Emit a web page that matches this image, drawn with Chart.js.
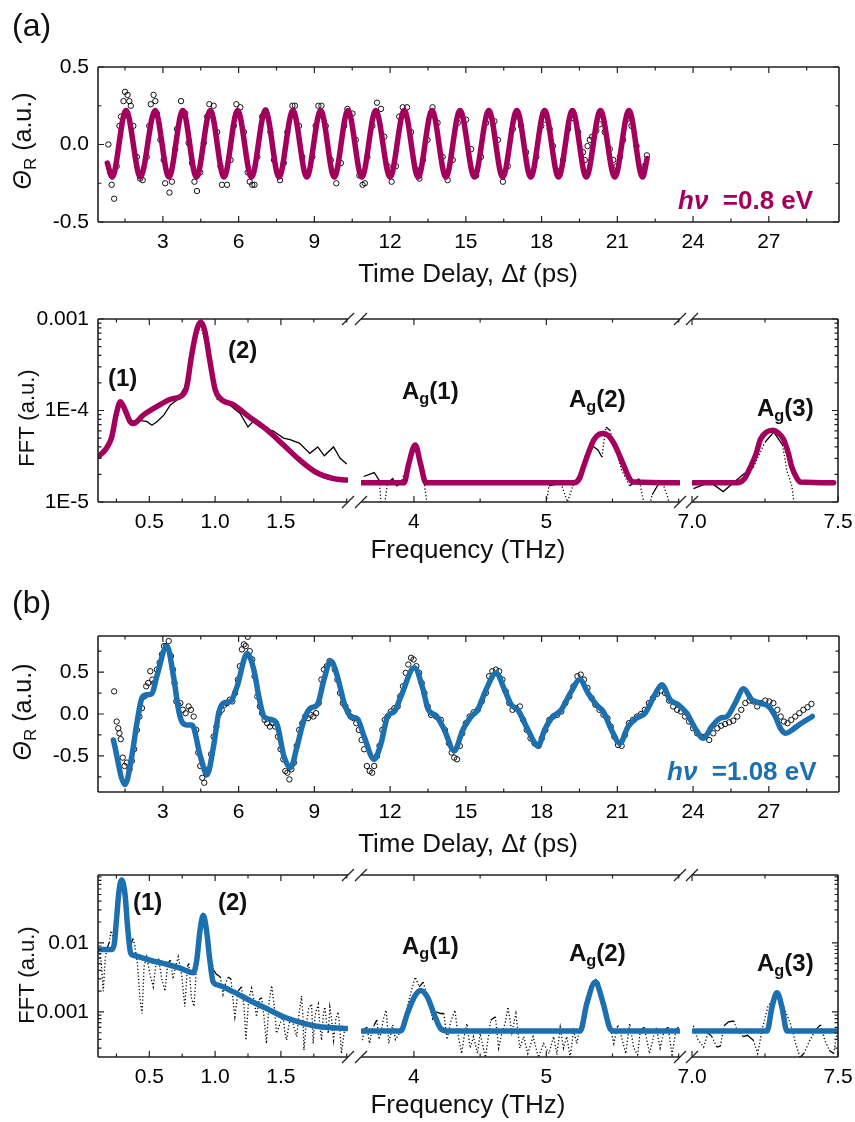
<!DOCTYPE html>
<html>
<head>
<meta charset="utf-8">
<script src="https://cdn.jsdelivr.net/npm/chart.js@4.4.0/dist/chart.umd.min.js"></script>
<style>
  body { margin: 0; background: #fff; }
  #fig { position: relative; width: 855px; height: 1122px; overflow: hidden; font-family: "Liberation Sans", Arial, sans-serif; color: #111; }
  #fig canvas { position: absolute; left: 0; }
  .t { position: absolute; white-space: nowrap; line-height: 1; z-index: 2; }
  .sub { position: relative; top: 0.32em; font-size: 0.68em; }
  .c { transform: translateX(-50%); }
  .v { transform: translate(-50%, -50%) rotate(-90deg); }
  .lab { font-weight: bold; }
</style>
</head>
<body>
<div id="fig">
  <div class="t" style="left:12px;top:9px;font-size:32px">(a)</div>
  <div class="t v" style="left:22px;top:141px;font-size:25px"><i>Θ</i><span class="sub">R</span> (a.u.)</div>
  <div class="t c" style="left:468px;top:260px;font-size:26px">Time Delay, Δ<i>t</i> (ps)</div>
  <div class="t lab" style="left:678px;top:187px;font-size:26px;color:#a3005d"><i>hν</i>&nbsp; =0.8 eV</div>

  <div class="t v" style="left:27px;top:418px;font-size:22px">FFT (a.u.)</div>
  <div class="t c" style="left:468px;top:536px;font-size:26px">Frequency (THz)</div>
  <div class="t lab" style="left:108px;top:366px;font-size:24px">(1)</div>
  <div class="t lab" style="left:228px;top:338px;font-size:24px">(2)</div>
  <div class="t lab" style="left:402px;top:379px;font-size:24px">A<span class="sub">g</span>(1)</div>
  <div class="t lab" style="left:569px;top:387px;font-size:24px">A<span class="sub">g</span>(2)</div>
  <div class="t lab" style="left:757px;top:396px;font-size:24px">A<span class="sub">g</span>(3)</div>

  <div class="t" style="left:12px;top:586px;font-size:32px">(b)</div>
  <div class="t v" style="left:22px;top:712px;font-size:25px"><i>Θ</i><span class="sub">R</span> (a.u.)</div>
  <div class="t c" style="left:468px;top:830px;font-size:26px">Time Delay, Δ<i>t</i> (ps)</div>
  <div class="t lab" style="left:667px;top:758px;font-size:26px;color:#1c70b0"><i>hν</i>&nbsp; =1.08 eV</div>

  <div class="t v" style="left:27px;top:975px;font-size:22px">FFT (a.u.)</div>
  <div class="t c" style="left:468px;top:1091px;font-size:26px">Frequency (THz)</div>
  <div class="t lab" style="left:133px;top:890px;font-size:24px">(1)</div>
  <div class="t lab" style="left:218px;top:890px;font-size:24px">(2)</div>
  <div class="t lab" style="left:402px;top:934px;font-size:24px">A<span class="sub">g</span>(1)</div>
  <div class="t lab" style="left:569px;top:941px;font-size:24px">A<span class="sub">g</span>(2)</div>
  <div class="t lab" style="left:757px;top:951px;font-size:24px">A<span class="sub">g</span>(3)</div>
</div>
<script>
var MAG = '#a3005d';
var BLUE = '#1c70b0';

// tick labels
var timeTicks = [[3,'3'],[6,'6'],[9,'9'],[12,'12'],[15,'15'],[18,'18'],[21,'21'],[24,'24'],[27,'27']];
var thetaTicks = [[-0.5,'-0.5'],[0,'0.0'],[0.5,'0.5']];
var freqTicks = [[0.5,'0.5'],[1.0,'1.0'],[1.5,'1.5'],[4,'4'],[5,'5'],[7.0,'7.0'],[7.5,'7.5']];
var fftTicksA = [[1e-5,'1E-5'],[1e-4,'1E-4'],[1e-3,'0.001']];
var fftTicksB = [[1e-3,'0.001'],[1e-2,'0.01']];

// broken frequency axis: THz ranges of the three pieces
var freqSegments = [[0.11, 2.01], [3.6, 6.01], [7.0, 7.5]];

// (a) 0.8 eV, time domain: measured points and fit
var circlesA = [[0.84,0.00],[0.91,-0.18],[0.97,-0.26],[1.07,-0.35],[1.17,-0.14],[1.28,0.12],[1.34,0.18],[1.44,0.28],[1.50,0.34],[1.60,0.32],[1.67,0.28],[1.73,0.25],[1.83,0.12],[1.97,-0.08],[2.10,-0.22],[2.20,-0.23],[2.36,-0.08],[2.46,0.12],[2.52,0.26],[2.63,0.32],[2.70,0.28],[2.76,0.20],[2.90,0.03],[3.03,-0.10],[3.09,-0.25],[3.26,-0.31],[3.36,-0.24],[3.49,-0.03],[3.56,0.10],[3.72,0.28],[3.89,0.20],[4.02,0.01],[4.15,-0.12],[4.25,-0.24],[4.35,-0.30],[4.48,-0.18],[4.62,0.01],[4.75,0.18],[4.84,0.26],[5.01,0.25],[5.15,0.08],[5.28,-0.14],[5.34,-0.26],[5.54,-0.26],[5.68,-0.10],[5.81,0.12],[5.91,0.26],[6.07,0.24],[6.21,0.08],[6.36,-0.18],[6.44,-0.24],[6.54,-0.26],[6.63,-0.26],[6.74,-0.08],[6.93,0.18],[7.07,0.22],[7.26,0.08],[7.40,-0.10],[7.64,-0.23],[7.79,-0.12],[7.93,0.08],[8.13,0.25],[8.23,0.25],[8.39,0.12],[8.52,-0.08],[8.72,-0.20],[8.92,-0.08],[9.05,0.12],[9.16,0.25],[9.28,0.25],[9.45,0.12],[9.65,-0.10],[9.87,-0.25],[10.05,-0.12],[10.18,0.12],[10.31,0.23],[10.51,0.20],[10.64,0.03],[10.78,-0.20],[10.91,-0.26],[11.00,-0.25],[11.10,-0.08],[11.30,0.12],[11.48,0.27],[11.64,0.23],[11.77,0.05],[11.90,-0.14],[12.06,-0.24],[12.23,-0.14],[12.36,0.18],[12.50,0.24],[12.67,0.24],[12.83,0.08],[13.03,-0.16],[13.16,-0.22],[13.30,-0.10],[13.48,0.03],[13.68,0.24],[13.88,0.14],[14.08,-0.08],[14.28,-0.23],[14.48,-0.10],[14.68,0.14],[14.81,0.20],[15.01,0.16],[15.21,-0.03],[15.41,-0.20],[15.60,-0.08],[15.80,0.14],[15.94,0.19],[16.13,0.15],[16.27,0.03],[16.47,-0.24],[16.66,-0.14],[16.86,0.10],[16.99,0.18],[17.19,0.12],[17.39,-0.05],[17.59,-0.20],[17.79,-0.08],[17.99,0.12],[18.12,0.16],[18.32,0.10],[18.45,-0.01],[18.65,-0.17],[18.85,-0.10],[19.05,0.10],[19.25,0.17],[19.45,0.08],[19.64,-0.05],[19.71,-0.10],[19.82,-0.01],[19.91,0.03],[20.00,0.05],[20.17,0.09],[20.30,0.13],[20.50,0.08],[20.70,-0.03],[20.84,-0.10],[20.97,-0.14],[21.10,-0.08],[21.23,0.03],[21.37,0.16],[21.56,0.12],[21.76,-0.01],[21.96,-0.16],[22.07,-0.14],[22.17,-0.07]];
var fitA = [[0.80,-0.12],[0.99,-0.21],[1.54,0.22],[2.11,-0.21],[2.69,0.22],[3.24,-0.21],[3.79,0.22],[4.33,-0.21],[4.88,0.22],[5.42,-0.21],[5.96,0.22],[6.51,-0.21],[7.06,0.22],[7.60,-0.21],[8.15,0.22],[8.70,-0.21],[9.25,0.22],[9.79,-0.21],[10.33,0.22],[10.88,-0.21],[11.43,0.22],[12.00,-0.21],[12.56,0.22],[13.11,-0.21],[13.66,0.22],[14.21,-0.21],[14.77,0.22],[15.34,-0.21],[15.91,0.22],[16.46,-0.21],[17.02,0.22],[17.57,-0.21],[18.12,0.22],[18.67,-0.21],[19.22,0.22],[19.77,-0.21],[20.33,0.22],[20.90,-0.21],[21.46,0.22],[22.00,-0.21],[22.18,-0.09]];

// (a) FFT: data and fit (null = gap between axis pieces)
var fftDataA = [[0.12,3.3e-5],[0.20,4.8e-5],[0.25,9.0e-5],[0.28,1.2e-4],[0.32,1.0e-4],[0.36,7.8e-5],[0.39,7.6e-5],[0.42,7.8e-5],[0.45,7.7e-5],[0.48,7.6e-5],[0.52,6.9e-5],[0.56,7.6e-5],[0.61,8.9e-5],[0.66,1.15e-4],[0.71,1.3e-4],[0.76,1.7e-4],[0.80,2.7e-4],[0.84,5.0e-4],[0.89,8.6e-4],[0.94,4.5e-4],[0.98,2.2e-4],[1.01,1.35e-4],[1.06,1.25e-4],[1.11,1.15e-4],[1.19,9.3e-5],[1.25,6.6e-5],[1.29,7.6e-5],[1.34,6.6e-5],[1.39,6.2e-5],[1.44,6.0e-5],[1.52,5.0e-5],[1.57,4.8e-5],[1.64,4.4e-5],[1.72,3.4e-5],[1.78,4.0e-5],[1.83,3.2e-5],[1.90,4.0e-5],[1.95,3.0e-5],[2.00,2.6e-5],
  [2.5,null],
  [3.62,1.9e-5],[3.70,2.1e-5],[3.74,1.7e-5],[3.76,6e-6],[3.80,1.6e-5],[3.84,1.8e-5],[3.87,1.5e-5],[3.90,1.6e-5],[3.95,2.5e-5],[4.00,4.0e-5],[4.04,3.0e-5],[4.08,1.5e-5],[4.12,6e-6],
  [4.5,null],
  [4.98,6e-6],[5.02,1.5e-5],[5.06,1.55e-5],[5.11,1.6e-5],[5.16,1.0e-5],[5.20,1.5e-5],[5.24,1.9e-5],[5.29,3.1e-5],[5.34,4.2e-5],[5.39,3.7e-5],[5.42,3.1e-5],[5.45,6.6e-5],[5.48,6.1e-5],[5.52,4.0e-5],[5.57,2.2e-5],[5.63,1.5e-5],[5.70,1.8e-5],[5.73,1.1e-5],[5.76,7e-6],[5.80,1.2e-5],[5.85,1.6e-5],[5.88,1.6e-5],[5.92,1.1e-5],[5.94,7e-6],
  [6.5,null],
  [7.005,1.4e-5],[7.062,1.65e-5],[7.107,1.3e-5],[7.14,1.6e-5],[7.175,2.0e-5],[7.21,2.4e-5],[7.25,4.5e-5],[7.28,5.8e-5],[7.31,4.2e-5],[7.325,2.2e-5],[7.342,1.5e-5],[7.353,8e-6]];
var fftFitA = [[0.12,3.2e-5],[0.176,3.9e-5],[0.214,5.1e-5],[0.25,9.3e-5],[0.28,1.25e-4],[0.315,1.02e-4],[0.353,7.6e-5],[0.378,7.2e-5],[0.454,8.9e-5],[0.556,1.1e-4],[0.657,1.32e-4],[0.746,1.45e-4],[0.784,1.8e-4],[0.82,3.9e-4],[0.86,7.6e-4],[0.89,9.3e-4],[0.92,7.6e-4],[0.96,3.5e-4],[1.00,1.7e-4],[1.04,1.35e-4],[1.14,1.15e-4],[1.26,8.5e-5],[1.39,6.2e-5],[1.52,4.2e-5],[1.64,2.9e-5],[1.77,2.1e-5],[1.90,1.8e-5],[2.00,1.74e-5],
  [2.5,null],
  [3.61,1.62e-5],[3.925,1.62e-5],[3.96,2.6e-5],[4.01,4.2e-5],[4.05,2.6e-5],[4.09,1.62e-5],[5.21,1.62e-5],[5.25,1.8e-5],[5.28,2.4e-5],[5.32,3.5e-5],[5.36,4.8e-5],[5.40,5.5e-5],[5.43,5.6e-5],[5.47,5.3e-5],[5.51,4.4e-5],[5.55,3.3e-5],[5.59,2.4e-5],[5.63,1.8e-5],[5.66,1.65e-5],[6.00,1.62e-5],
  [6.5,null],
  [7.005,1.62e-5],[7.154,1.62e-5],[7.18,1.8e-5],[7.20,2.4e-5],[7.22,3.4e-5],[7.234,4.8e-5],[7.255,5.8e-5],[7.277,6.1e-5],[7.295,5.7e-5],[7.314,4.8e-5],[7.33,3.4e-5],[7.342,2.4e-5],[7.36,1.8e-5],[7.371,1.65e-5],[7.485,1.62e-5]];

// (b) 1.08 eV, time domain
var circlesB = [[1.07,0.27],[1.17,-0.09],[1.23,-0.17],[1.28,-0.23],[1.33,-0.30],[1.41,-0.52],[1.48,-0.62],[1.57,-0.58],[1.68,-0.66],[1.77,-0.56],[1.86,-0.42],[1.97,-0.19],[2.07,-0.03],[2.17,0.07],[2.26,0.21],[2.34,0.33],[2.42,0.37],[2.50,0.51],[2.58,0.41],[2.66,0.37],[2.76,0.53],[2.87,0.61],[2.96,0.71],[3.05,0.81],[3.13,0.81],[3.23,0.87],[3.32,0.69],[3.40,0.53],[3.46,0.37],[3.53,0.15],[3.61,0.11],[3.69,0.13],[3.79,0.05],[3.90,0.01],[4.02,0.09],[4.11,0.05],[4.22,-0.03],[4.32,-0.19],[4.40,-0.46],[4.48,-0.62],[4.56,-0.76],[4.64,-0.82],[4.72,-0.72],[4.81,-0.66],[4.91,-0.48],[5.01,-0.27],[5.12,-0.15],[5.23,0.01],[5.33,0.05],[5.44,0.11],[5.54,0.13],[5.65,0.17],[5.75,0.15],[5.86,0.25],[5.97,0.41],[6.05,0.57],[6.13,0.77],[6.21,0.83],[6.28,0.81],[6.36,0.92],[6.44,0.75],[6.54,0.65],[6.63,0.45],[6.74,0.21],[6.84,0.09],[6.93,0.01],[7.03,-0.07],[7.13,-0.11],[7.24,-0.15],[7.34,-0.11],[7.45,-0.15],[7.56,-0.27],[7.66,-0.42],[7.77,-0.54],[7.85,-0.68],[7.93,-0.70],[8.01,-0.78],[8.09,-0.66],[8.19,-0.58],[8.30,-0.38],[8.40,-0.19],[8.52,-0.11],[8.64,-0.03],[8.75,-0.05],[8.85,-0.01],[8.96,-0.03],[9.07,0.01],[9.17,0.13],[9.28,0.41],[9.38,0.53],[9.49,0.57],[9.60,0.63],[9.70,0.61],[9.81,0.53],[9.91,0.41],[10.02,0.25],[10.13,0.13],[10.23,0.09],[10.34,0.03],[10.44,-0.03],[10.55,-0.05],[10.66,-0.11],[10.76,-0.19],[10.87,-0.31],[10.97,-0.42],[11.08,-0.62],[11.19,-0.68],[11.29,-0.70],[11.37,-0.62],[11.48,-0.50],[11.58,-0.38],[11.69,-0.19],[11.79,-0.07],[11.90,-0.03],[12.03,0.03],[12.17,0.07],[12.30,0.09],[12.40,0.21],[12.51,0.33],[12.62,0.49],[12.72,0.59],[12.83,0.67],[12.93,0.65],[13.04,0.57],[13.15,0.49],[13.25,0.37],[13.36,0.25],[13.49,0.09],[13.62,-0.01],[13.82,-0.03],[14.01,-0.07],[14.17,-0.19],[14.33,-0.35],[14.44,-0.46],[14.54,-0.52],[14.65,-0.54],[14.76,-0.38],[14.86,-0.23],[15.00,-0.11],[15.15,-0.03],[15.31,0.02],[15.47,0.05],[15.63,0.15],[15.79,0.25],[15.92,0.45],[16.05,0.51],[16.19,0.53],[16.32,0.51],[16.45,0.41],[16.58,0.27],[16.72,0.13],[16.85,0.05],[16.98,0.07],[17.14,0.09],[17.27,-0.07],[17.41,-0.19],[17.56,-0.29],[17.72,-0.35],[17.88,-0.38],[18.01,-0.29],[18.15,-0.19],[18.31,-0.07],[18.46,-0.03],[18.62,-0.01],[18.78,0.03],[18.94,0.13],[19.10,0.21],[19.26,0.33],[19.42,0.45],[19.55,0.47],[19.68,0.41],[19.82,0.31],[19.98,0.19],[20.13,0.11],[20.29,0.05],[20.45,-0.01],[20.61,-0.05],[20.74,-0.15],[20.88,-0.27],[21.03,-0.37],[21.17,-0.38],[21.30,-0.25],[21.46,-0.11],[21.62,-0.07],[21.78,-0.03],[21.94,0.00],[22.09,0.05],[22.25,0.13],[22.41,0.19],[22.57,0.24],[22.73,0.28],[22.89,0.25],[23.05,0.16],[23.21,0.09],[23.37,0.05],[23.52,0.03],[23.68,-0.03],[23.84,-0.09],[24.00,-0.17],[24.16,-0.23],[24.32,-0.27],[24.48,-0.27],[24.64,-0.31],[24.80,-0.23],[24.96,-0.17],[25.11,-0.14],[25.27,-0.12],[25.43,-0.10],[25.59,-0.08],[25.75,-0.03],[25.91,0.05],[26.07,0.13],[26.23,0.16],[26.39,0.15],[26.54,0.09],[26.70,0.13],[26.86,0.16],[27.02,0.15],[27.18,0.13],[27.34,0.05],[27.47,-0.03],[27.60,-0.09],[27.74,-0.11],[27.89,-0.07],[28.05,-0.03],[28.21,0.01],[28.37,0.05],[28.53,0.08],[28.69,0.12]];
var fitB = [[1.04,-0.31],[1.50,-0.84],[1.77,-0.50],[1.97,-0.11],[2.17,0.19],[2.36,0.23],[2.56,0.24],[2.76,0.45],[3.16,0.81],[3.42,0.45],[3.62,0.05],[3.75,-0.09],[3.95,-0.13],[4.15,-0.13],[4.48,-0.50],[4.75,-0.72],[5.01,-0.38],[5.21,0.01],[5.41,0.13],[5.68,0.15],[5.94,0.33],[6.34,0.72],[6.60,0.53],[6.80,0.21],[7.00,-0.03],[7.33,-0.07],[7.53,-0.13],[7.79,-0.50],[8.06,-0.64],[8.32,-0.38],[8.59,-0.07],[8.85,0.07],[9.12,0.11],[9.38,0.41],[9.65,0.63],[9.91,0.45],[10.18,0.13],[10.44,-0.03],[10.71,-0.06],[10.97,-0.27],[11.37,-0.54],[11.64,-0.35],[11.90,-0.03],[12.17,0.03],[12.43,0.21],[12.96,0.55],[13.30,0.30],[13.50,0.06],[13.85,-0.03],[14.15,-0.19],[14.54,-0.44],[14.88,-0.19],[15.21,-0.03],[15.47,0.05],[15.80,0.29],[16.20,0.49],[16.53,0.29],[16.80,0.11],[17.06,0.05],[17.46,-0.19],[17.86,-0.38],[18.12,-0.19],[18.39,-0.05],[18.78,0.05],[19.18,0.27],[19.51,0.41],[19.84,0.25],[20.17,0.11],[20.44,0.03],[20.77,-0.19],[21.10,-0.35],[21.43,-0.15],[21.76,-0.05],[22.10,0.01],[22.49,0.23],[22.76,0.35],[23.09,0.17],[23.42,0.11],[23.75,0.01],[24.08,-0.17],[24.41,-0.29],[24.74,-0.15],[25.07,-0.05],[25.34,-0.03],[25.67,0.13],[26.00,0.30],[26.33,0.17],[26.66,0.13],[26.99,0.09],[27.26,-0.03],[27.46,-0.17],[27.68,-0.23],[27.92,-0.19],[28.19,-0.13],[28.72,-0.03]];

// (b) FFT
var fftDataB = [[0.12,7.8e-3],[0.135,5.0e-3],[0.15,2.0e-3],[0.165,6.0e-3],[0.18,8.5e-3],[0.195,1.0e-2],[0.21,1.5e-2],[0.225,1.2e-2],[0.24,1.6e-2],[0.255,3.0e-2],[0.27,5.5e-2],[0.29,6.5e-2],[0.31,4.0e-2],[0.33,1.8e-2],[0.35,1.1e-2],[0.365,1.0e-2],[0.375,1.15e-2],[0.39,9.0e-3],[0.41,5.0e-3],[0.43,1.5e-3],[0.445,9.5e-4],[0.46,4.5e-3],[0.48,6.3e-3],[0.505,3.5e-3],[0.53,2.3e-3],[0.55,5.0e-3],[0.57,6.0e-3],[0.595,3.0e-3],[0.62,2.0e-3],[0.64,5.0e-3],[0.66,5.6e-3],[0.68,3.0e-3],[0.70,4.6e-3],[0.72,6.3e-3],[0.745,3.5e-3],[0.77,1.2e-3],[0.79,4.5e-3],[0.80,5.0e-3],[0.82,1.6e-3],[0.84,1.2e-3],[0.86,5.0e-3],[0.88,1.5e-2],[0.91,2.4e-2],[0.94,1.5e-2],[0.97,6.0e-3],[0.99,4.0e-3],[1.01,3.5e-3],[1.04,3.2e-3],[1.06,1.8e-3],[1.08,2.6e-3],[1.10,3.2e-3],[1.12,3.0e-3],[1.15,8.5e-4],[1.175,2.0e-3],[1.20,2.3e-3],[1.22,1.2e-3],[1.234,3.9e-4],[1.255,1.5e-3],[1.277,2.2e-3],[1.295,1.5e-3],[1.315,8.5e-4],[1.335,1.5e-3],[1.353,1.6e-3],[1.37,9.0e-4],[1.39,3.5e-4],[1.41,1.4e-3],[1.43,2.4e-3],[1.45,1.2e-3],[1.467,4.9e-4],[1.49,6.5e-4],[1.518,8.5e-4],[1.53,5.0e-4],[1.543,3.9e-4],[1.56,6.5e-4],[1.58,8.5e-4],[1.60,6.0e-4],[1.62,4.4e-4],[1.64,1.0e-3],[1.657,1.7e-3],[1.667,9.0e-4],[1.675,2.8e-4],[1.69,6.0e-4],[1.71,1.1e-3],[1.733,1.3e-3],[1.745,3.5e-4],[1.76,9.0e-4],[1.784,1.3e-3],[1.797,6.0e-4],[1.81,3.9e-4],[1.822,9.0e-4],[1.834,1.18e-3],[1.847,7.0e-4],[1.86,4.9e-4],[1.872,1.18e-3],[1.885,8.0e-4],[1.90,3.9e-4],[1.918,8.0e-4],[1.935,1.0e-3],[1.948,6.0e-4],[1.96,2.5e-4],[1.98,5.0e-4],[2.00,6.0e-4],
  [2.5,null],
  [3.61,3.9e-4],[3.625,5.6e-4],[3.645,6.0e-4],[3.665,3.5e-4],[3.68,4.9e-4],[3.70,6.5e-4],[3.72,7.6e-4],[3.735,4.0e-4],[3.75,4.9e-4],[3.77,8.0e-4],[3.79,1.06e-3],[3.80,6.0e-4],[3.81,3.5e-4],[3.83,5.4e-4],[3.84,6.5e-4],[3.86,4.0e-4],[3.89,4.9e-4],[3.92,7.0e-4],[3.95,1.2e-3],[3.98,2.0e-3],[4.01,3.2e-3],[4.04,2.3e-3],[4.07,2.7e-3],[4.09,2.0e-3],[4.11,1.5e-3],[4.14,8.0e-4],[4.17,1.0e-3],[4.20,9.5e-4],[4.226,9.5e-4],[4.25,4.0e-4],[4.276,7.0e-4],[4.31,1.06e-3],[4.33,5.0e-4],[4.36,2.5e-4],[4.38,4.5e-4],[4.40,6.8e-4],[4.425,3.0e-4],[4.45,4.4e-4],[4.48,2.5e-4],[4.50,4.9e-4],[4.54,2.2e-4],[4.58,7.6e-4],[4.615,8.5e-4],[4.64,3.0e-4],[4.665,5.0e-4],[4.69,7.0e-4],[4.71,1.18e-3],[4.74,5.0e-4],[4.77,9.5e-4],[4.80,3.0e-4],[4.83,4.4e-4],[4.86,2.5e-4],[4.90,4.4e-4],[4.94,2.2e-4],[4.98,3.5e-4],[5.02,2.5e-4],[5.055,4.4e-4],[5.08,2.4e-4],[5.105,6.0e-4],[5.13,3.0e-4],[5.155,4.4e-4],[5.18,2.2e-4],[5.206,5.4e-4],[5.23,3.5e-4],[5.256,6.0e-4],[5.29,1.2e-3],[5.33,2.4e-3],[5.37,3.0e-3],[5.40,2.6e-3],[5.43,1.5e-3],[5.46,9.0e-4],[5.48,6.3e-4],[5.51,3.5e-4],[5.54,6.5e-4],[5.56,5.0e-4],[5.60,2.5e-4],[5.63,6.8e-4],[5.66,3.0e-4],[5.69,2.4e-4],[5.71,5.4e-4],[5.74,6.0e-4],[5.78,2.5e-4],[5.81,4.4e-4],[5.83,6.0e-4],[5.86,3.0e-4],[5.89,5.4e-4],[5.92,6.0e-4],[5.95,2.4e-4],[5.98,5.6e-4],[6.00,6.0e-4],
  [6.5,null],
  [7.005,6.3e-4],[7.02,4.0e-4],[7.04,3.1e-4],[7.055,5.0e-4],[7.068,4.4e-4],[7.085,3.1e-4],[7.097,3.2e-4],[7.11,6.3e-4],[7.125,7.2e-4],[7.143,7.4e-4],[7.155,5.4e-4],[7.175,4.4e-4],[7.19,4.6e-4],[7.21,3.9e-4],[7.225,2.5e-4],[7.24,5.5e-4],[7.26,1.2e-3],[7.29,1.9e-3],[7.31,1.3e-3],[7.337,6.8e-4],[7.355,3.5e-4],[7.37,2.2e-4],[7.383,2.5e-4],[7.405,4.0e-4],[7.425,5.6e-4],[7.44,6.5e-4],[7.455,3.9e-4],[7.47,2.8e-4],[7.485,2.5e-4],[7.497,5.0e-4]];
var fftFitB = [[0.12,8.0e-3],[0.214,8.0e-3],[0.235,1.0e-2],[0.25,2.1e-2],[0.27,5.7e-2],[0.29,8.1e-2],[0.315,5.1e-2],[0.335,1.7e-2],[0.358,7.1e-3],[0.38,6.6e-3],[0.505,5.6e-3],[0.632,4.9e-3],[0.733,4.3e-3],[0.834,3.7e-3],[0.86,5.5e-3],[0.885,1.5e-2],[0.91,2.5e-2],[0.935,1.5e-2],[0.96,5.6e-3],[0.986,2.7e-3],[1.024,2.45e-3],[1.14,1.95e-3],[1.26,1.48e-3],[1.39,1.12e-3],[1.52,8.5e-4],[1.64,7.1e-4],[1.77,6.2e-4],[1.90,5.9e-4],[2.00,5.75e-4],
  [2.5,null],
  [3.61,5.3e-4],[3.90,5.3e-4],[3.95,9.5e-4],[4.01,1.74e-3],[4.05,2.05e-3],[4.10,1.66e-3],[4.15,9.5e-4],[4.20,5.8e-4],[4.25,5.3e-4],[5.256,5.3e-4],[5.306,1.32e-3],[5.37,2.7e-3],[5.43,1.32e-3],[5.48,5.8e-4],[5.51,5.3e-4],[6.00,5.3e-4],
  [6.5,null],
  [7.005,5.3e-4],[7.257,5.3e-4],[7.274,1.18e-3],[7.291,1.9e-3],[7.308,1.18e-3],[7.325,5.3e-4],[7.497,5.3e-4]];

Chart.defaults.font.family = "'Liberation Sans', Arial, sans-serif";
Chart.defaults.font.size = 21;
Chart.defaults.color = '#000';

// frame with inward ticks on every side that is drawn, plus the // break marks
var framePlugin = {
    id: 'frame',
    afterDatasetsDraw: function (chart, args, o) {
        var ctx = chart.ctx, a = chart.chartArea;
        var xs = chart.scales.x, ys = chart.scales.y;
        ctx.save();
        ctx.strokeStyle = '#222';
        ctx.lineWidth = 1.6;
        ctx.beginPath();
        ctx.moveTo(a.left, a.top); ctx.lineTo(a.right, a.top);
        ctx.moveTo(a.left, a.bottom); ctx.lineTo(a.right, a.bottom);
        if (o.l) { ctx.moveTo(a.left, a.top); ctx.lineTo(a.left, a.bottom); }
        if (o.r) { ctx.moveTo(a.right, a.top); ctx.lineTo(a.right, a.bottom); }
        ctx.stroke();

        ctx.lineWidth = 1.2;
        ctx.beginPath();
        xs.ticks.forEach(function (t) {
            var px = xs.getPixelForValue(t.value);
            var len = t.label ? 6 : 3.5;
            ctx.moveTo(px, a.top); ctx.lineTo(px, a.top + len);
            ctx.moveTo(px, a.bottom); ctx.lineTo(px, a.bottom - len);
        });
        ys.ticks.forEach(function (t) {
            var py = ys.getPixelForValue(t.value);
            var len = (t.label || t.major) ? 6 : 3.5;
            if (o.l) { ctx.moveTo(a.left, py); ctx.lineTo(a.left + len, py); }
            if (o.r) { ctx.moveTo(a.right, py); ctx.lineTo(a.right - len, py); }
        });
        ctx.stroke();

        ctx.lineWidth = 1.3;
        ctx.beginPath();
        [o.bl ? a.left : null, o.br ? a.right : null].forEach(function (cx) {
            if (cx === null) return;
            [a.top, a.bottom].forEach(function (cy) {
                ctx.moveTo(cx - 6, cy + 6); ctx.lineTo(cx + 6, cy - 6);
            });
        });
        ctx.stroke();
        ctx.restore();
    }
};
Chart.register(framePlugin);

function xy(arr) {
    return arr.map(function (p) { return { x: p[0], y: p[1] }; });
}

function labeller(list) {
    return function (v) {
        for (var i = 0; i < list.length; i++) {
            if (Math.abs(v - list[i][0]) <= 1e-6 * Math.abs(list[i][0]) + 1e-9) return list[i][1];
        }
        return '';
    };
}

function keepWholeDecadeSteps(scale) {
    scale.ticks = scale.ticks.filter(function (t) {
        var e = Math.floor(Math.log10(t.value) + 1e-9);
        var m = t.value / Math.pow(10, e);
        return Math.abs(m - Math.round(m)) < 1e-6;
    });
}

// dotted look where the measured curve jumps steeply
function steepDots(limit) {
    return function (ctx) {
        return Math.abs(ctx.p1.y - ctx.p0.y) > limit ? [1.2, 2.2] : undefined;
    };
}

var fig = document.getElementById('fig');

function makeChart(row, area, opt) {
    var cv = document.createElement('canvas');
    cv.width = 855; cv.height = row.h;
    cv.style.top = row.top + 'px';
    fig.appendChild(cv);
    var yw = opt.yLabels ? 70 : 0;
    var yScale = {
        type: opt.y.type, min: opt.y.min, max: opt.y.max, position: 'left',
        grid: { display: false }, border: { display: false },
        ticks: { display: opt.yLabels, autoSkip: false, padding: 1, includeBounds: false, callback: opt.y.callback },
        afterFit: function (s) { s.width = yw; }
    };
    if (opt.y.stepSize) yScale.ticks.stepSize = opt.y.stepSize;
    if (opt.y.type === 'logarithmic') yScale.afterBuildTicks = keepWholeDecadeSteps;

    return new Chart(cv, {
        type: 'line',
        data: { datasets: opt.datasets },
        options: {
            responsive: false, animation: false, devicePixelRatio: 1, events: [],
            layout: { padding: { left: area.l - yw, right: 855 - area.r, top: area.t - row.top, bottom: row.top + row.h - area.b - 40 } },
            plugins: { legend: { display: false }, tooltip: { enabled: false }, frame: opt.frame },
            scales: {
                x: {
                    type: 'linear', min: opt.x.min, max: opt.x.max,
                    grid: { display: false }, border: { display: false },
                    ticks: { stepSize: opt.x.stepSize, includeBounds: false, autoSkip: false, maxRotation: 0, minRotation: 0, padding: 0, callback: opt.x.callback },
                    afterFit: function (s) { s.height = 40; }
                },
                y: yScale
            }
        }
    });
}

function timeSets(fit, circles, color) {
    return [
        { data: xy(fit), borderColor: color, borderWidth: 5.5, pointRadius: 0, cubicInterpolationMode: 'monotone', borderCapStyle: 'round', borderJoinStyle: 'round', order: 0 },
        { data: xy(circles), showLine: false, pointRadius: 2.7, pointBorderWidth: 1, pointBorderColor: '#111', pointBackgroundColor: 'rgba(255,255,255,0)', order: 1 }
    ];
}

function fftSets(fit, dat, color, limit) {
    return [
        { data: xy(fit), borderColor: color, borderWidth: 5.5, pointRadius: 0, cubicInterpolationMode: 'monotone', borderCapStyle: 'round', order: 0 },
        { data: xy(dat), borderColor: '#000', borderWidth: 1.3, pointRadius: 0, tension: 0, segment: { borderDash: steepDots(limit) }, order: 1 }
    ];
}

// (a) time domain
makeChart({ top: 0, h: 290 }, { l: 98, r: 839, t: 67, b: 222 }, {
    yLabels: true,
    x: { min: 0.43, max: 29.78, stepSize: 1.5, callback: labeller(timeTicks) },
    y: { type: 'linear', min: -0.5, max: 0.5, stepSize: 0.25, callback: labeller(thetaTicks) },
    frame: { l: true, r: true },
    datasets: timeSets(fitA, circlesA, MAG)
});

// (b) time domain
makeChart({ top: 570, h: 290 }, { l: 98, r: 839, t: 636, b: 792 }, {
    yLabels: true,
    x: { min: 0.43, max: 29.78, stepSize: 1.5, callback: labeller(timeTicks) },
    y: { type: 'linear', min: -0.93, max: 0.93, stepSize: 0.25, callback: labeller(thetaTicks) },
    frame: { l: true, r: true },
    datasets: timeSets(fitB, circlesB, BLUE)
});

// broken FFT axes, three pieces each
var segPx = [[98, 348], [361, 680], [692, 838]];
var segSteps = [0.25, 0.5, 0.25];
var segFrames = [{ l: true, br: true }, { bl: true, br: true }, { r: true, bl: true }];

function fftPanel(row, top, bottom, ymin, ymax, yticks, fit, dat, color, limit) {
    for (var i = 0; i < 3; i++) {
        makeChart(row, { l: segPx[i][0], r: segPx[i][1], t: top, b: bottom }, {
            yLabels: i === 0,
            x: { min: freqSegments[i][0], max: freqSegments[i][1], stepSize: segSteps[i], callback: labeller(freqTicks) },
            y: { type: 'logarithmic', min: ymin, max: ymax, callback: labeller(yticks) },
            frame: segFrames[i],
            datasets: fftSets(fit, dat, color, limit)
        });
    }
}

fftPanel({ top: 290, h: 280 }, 319, 502, 1e-5, 1e-3, fftTicksA, fftFitA, fftDataA, MAG, 14);
fftPanel({ top: 860, h: 262 }, 875, 1057, 2.23e-4, 0.0957, fftTicksB, fftFitB, fftDataB, BLUE, 5);
</script>
</body>
</html>
